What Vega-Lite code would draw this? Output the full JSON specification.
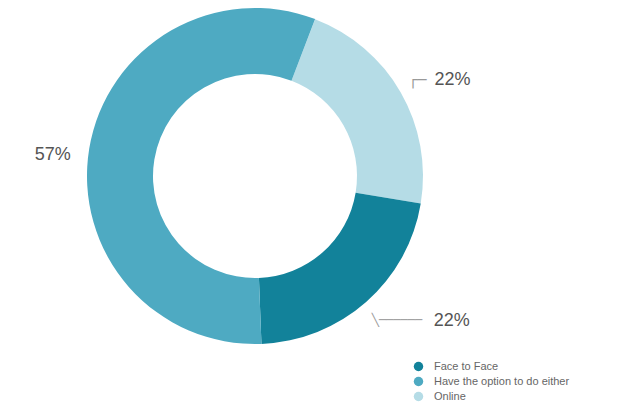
{
  "$schema": "https://vega.github.io/schema/vega-lite/v6.json",
  "width": 510,
  "height": 352,
  "autosize": "none",
  "padding": {"left": 0, "top": 0, "right": 132, "bottom": 59},
  "background": "white",
  "config": {"view": {"stroke": null}, "font": "Liberation Sans"},
  "data": {"values": [
    {"category": "Online", "value": 22, "label": "22%", "order": 1},
    {"category": "Face to Face", "value": 22, "label": "22%", "order": 2},
    {"category": "Have the option to do either", "value": 57, "label": "57%", "order": 3}
  ]},
  "encoding": {
    "theta": {"field": "value", "type": "quantitative", "stack": true, "scale": {"range": [0.366, 6.649]}},
    "order": {"field": "order", "type": "quantitative"}
  },
  "layer": [
    {
      "mark": {"type": "arc", "outerRadius": 168, "innerRadius": 102},
      "encoding": {
        "color": {
          "field": "category", "type": "nominal",
          "scale": {"domain": ["Face to Face", "Have the option to do either", "Online"], "range": ["#12829a", "#4eaac2", "#b5dce6"]},
          "legend": {
            "title": null, "orient": "none", "legendX": 413, "legendY": 361,
            "symbolType": "circle", "symbolSize": 90, "labelFontSize": 11, "labelColor": "#666666",
            "labelOffset": 10, "rowPadding": 3, "padding": 0, "symbolStrokeWidth": 0
          }
        }
      }
    },
    {
      "mark": {"type": "text", "radius": 205, "fontSize": 18, "color": "#555555", "dy": 12},
      "encoding": {"text": {"condition": {"test": "datum.category === 'Have the option to do either'", "field": "label"}, "value": ""}}
    },
    {
      "mark": {"type": "text", "radius": 193, "fontSize": 18, "color": "#555555", "align": "left", "dx": 12},
      "encoding": {"text": {"condition": {"test": "datum.category === 'Online'", "field": "label"}, "value": ""}}
    },
    {
      "mark": {"type": "text", "radius": 193, "fontSize": 18, "color": "#555555", "align": "left", "dx": 51},
      "encoding": {"text": {"condition": {"test": "datum.category === 'Face to Face'", "field": "label"}, "value": ""}}
    },
    {
      "mark": {"type": "text", "radius": 193, "fontSize": 15, "font": "DejaVu Sans", "color": "#999999", "align": "left", "dx": -14, "dy": 0},
      "encoding": {"text": {"condition": {"test": "datum.category === 'Online'", "value": "┌─"}, "value": ""}}
    },
    {
      "mark": {"type": "text", "radius": 193, "fontSize": 12, "font": "DejaVu Sans", "color": "#999999", "align": "left", "dx": -11, "dy": -1},
      "encoding": {"text": {"condition": {"test": "datum.category === 'Face to Face'", "value": "╲──────"}, "value": ""}}
    }
  ]
}
